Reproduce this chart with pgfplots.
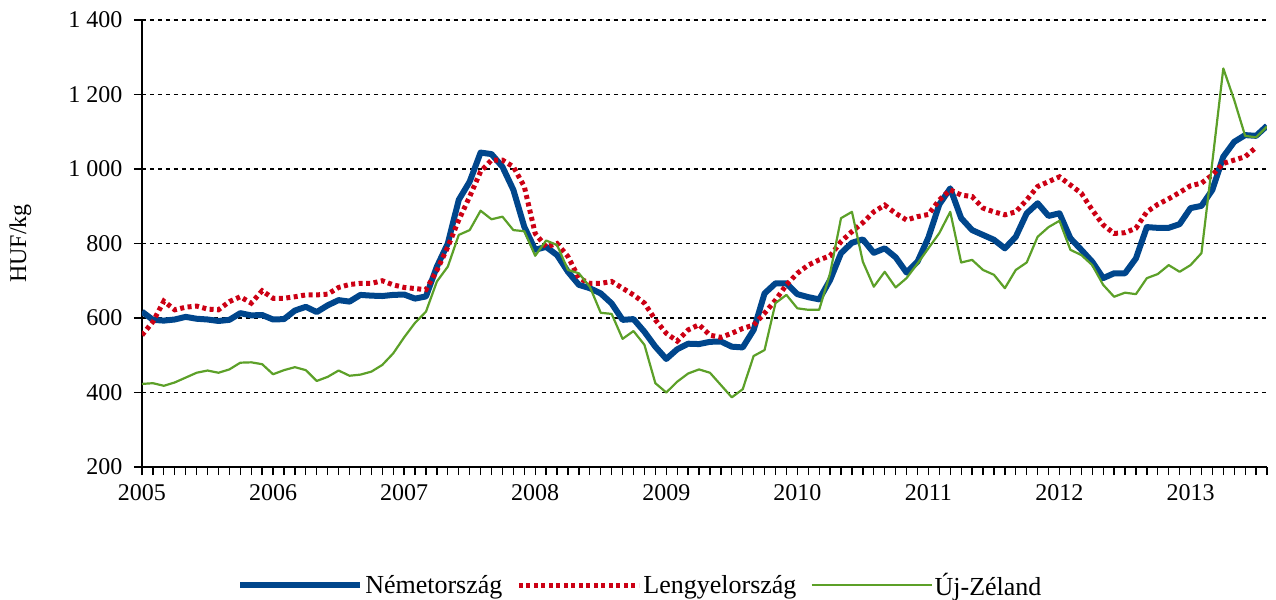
\documentclass[border=0pt]{standalone}
\usepackage{fontspec}
\setmainfont{Liberation Serif}
\usepackage{pgfplots}
\usepackage{pgfplotstable}
\pgfplotsset{compat=1.18}
\definecolor{cblue}{RGB}{0,70,140}
\definecolor{cred}{RGB}{204,0,20}
\definecolor{cgreen}{RGB}{92,160,40}
\pgfplotstableread{
i blue red green
0 617 554 423
1 595 590 425
2 593 645 418
3 596 622 427
4 603 629 440
5 598 632 453
6 596 624 459
7 592 622 453
8 595 644 462
9 613 657 480
10 607 640 481
11 608 673 476
12 596 653 449
13 597 653 460
14 620 657 468
15 630 662 460
16 616 662 431
17 634 664 442
18 648 682 459
19 644 690 445
20 662 693 448
21 660 693 456
22 659 700 474
23 662 689 505
24 663 682 548
25 652 679 587
26 658 676 617
27 738 728 698
28 800 791 738
29 917 863 823
30 966 926 836
31 1044 993 888
32 1040 1024 865
33 1006 1024 872
34 944 1006 836
35 845 953 833
36 783 827 767
37 791 791 808
38 769 800 796
39 724 765 729
40 689 707 720
41 680 693 684
42 666 693 614
43 639 698 611
44 595 680 544
45 597 662 565
46 563 640 528
47 523 595 425
48 490 559 400
49 516 538 429
50 531 568 451
51 530 582 462
52 536 554 453
53 537 548 420
54 523 559 387
55 521 572 409
56 568 581 498
57 666 613 514
58 693 648 640
59 693 689 662
60 664 720 626
61 656 742 622
62 650 756 622
63 702 767 720
64 774 805 868
65 802 832 885
66 811 856 751
67 775 885 684
68 787 903 724
69 763 881 682
70 722 863 707
71 751 872 746
72 816 878 787
73 905 917 828
74 948 944 885
75 868 930 749
76 836 926 756
77 823 895 729
78 810 885 716
79 787 877 680
80 818 885 729
81 881 917 749
82 908 953 818
83 874 966 844
84 881 979 861
85 814 957 783
86 783 935 769
87 751 890 742
88 707 850 689
89 720 827 657
90 720 829 668
91 760 841 664
92 844 885 707
93 842 905 718
94 842 920 742
95 852 937 724
96 895 955 742
97 901 962 774
98 944 984 1020
99 1033 1015 1270
100 1073 1024 1185
101 1091 1033 1089
102 1089 1058 1085
103 1116 nan 1114
}\datatable
\begin{document}
\begin{tikzpicture}[font=\fontsize{24bp}{28bp}\selectfont]
\path[use as bounding box] (-142bp,-133bp) rectangle (1134bp,467bp);
\begin{axis}[
  at={(0,0)}, anchor=south west,
  scale only axis, width=1125bp, height=447bp,
  xmin=0, xmax=103, ymin=200, ymax=1400,
  axis x line*=bottom, axis y line*=left,
  axis line style={-, line width=1.4bp, black},
  xtick={0,12,...,96},
  xticklabels={2005,2006,2007,2008,2009,2010,2011,2012,2013},
  minor xtick={1,...,103},
  ytick={200,400,...,1400},
  tick align=outside,
  major tick length=8bp, minor tick length=8bp,
  every tick/.style={black, line width=1.3bp},
  ymajorgrids,
  major grid style={black, line width=1.6bp, dash pattern=on 4bp off 4bp},
  /pgf/number format/assume math mode=true,
  /pgf/number format/1000 sep={\ },
  tick label style={font=\fontsize{24bp}{28bp}\selectfont},
  xticklabel style={yshift=-6bp},
  yticklabel style={xshift=-8bp},
  ylabel={HUF/kg},
  ylabel style={at={(axis description cs:-0.108,0.5)}, anchor=center, font=\fontsize{24bp}{28bp}\selectfont},
  legend style={at={(axis description cs:0.443,-0.264)}, anchor=center, draw=none, fill=none,
    font=\fontsize{26bp}{30bp}\selectfont,
    /tikz/every even column/.append style={column sep=12bp}},
  legend columns=3,
  legend image code/.code={\draw[#1] (0bp,0bp) -- (120bp,0bp);},
]
\addplot[cblue, line width=6bp, line join=round, mark=none] table[x=i, y=blue] {\datatable};
\addlegendentry{Németország}
\addplot[cred, line width=5bp, dash pattern=on 4bp off 3.5bp, mark=none] table[x=i, y=red] {\datatable};
\addlegendentry{Lengyelország}
\addplot[cgreen, line width=2.2bp, line join=round, mark=none] table[x=i, y=green] {\datatable};
\addlegendentry{Új-Zéland}
\end{axis}
\end{tikzpicture}
\end{document}
